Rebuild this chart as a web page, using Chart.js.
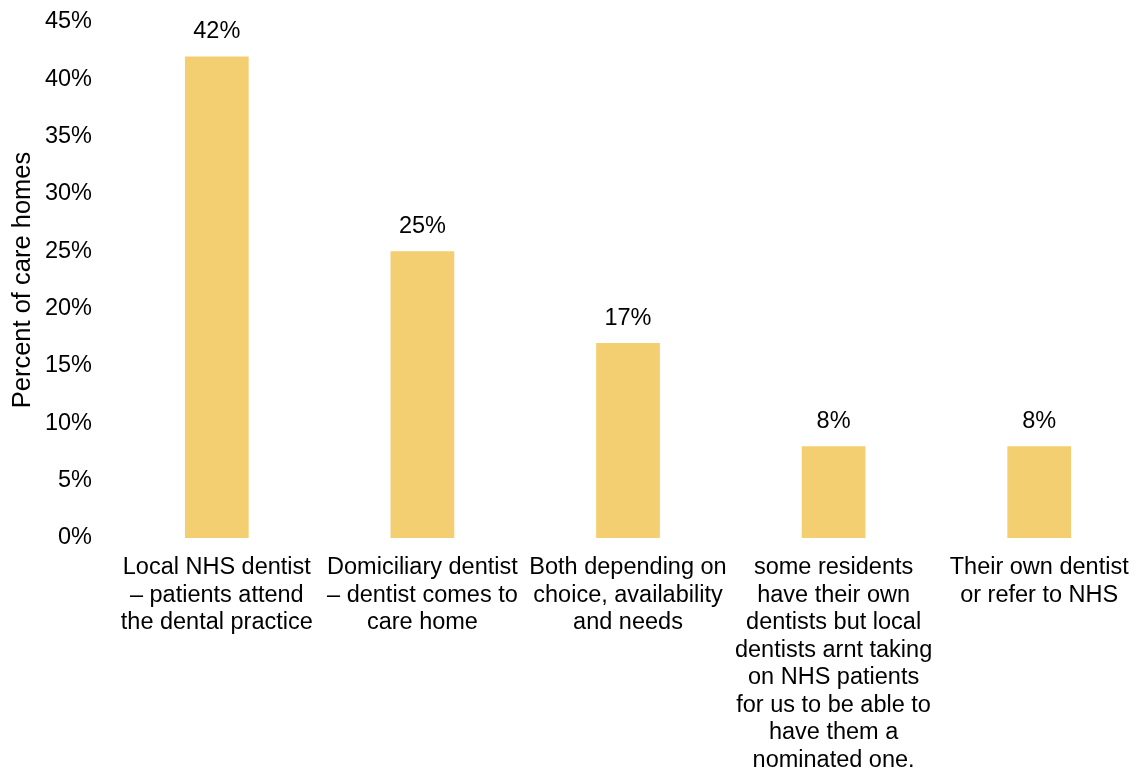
<!DOCTYPE html>
<html>
<head>
<meta charset="utf-8">
<script src="https://cdn.jsdelivr.net/npm/chart.js@4"></script>
<style>
  html, body { margin: 0; padding: 0; background: #ffffff; }
  #wrap { width: 1142px; height: 772px; }
</style>
</head>
<body>
<div id="wrap"><canvas id="chart" width="1142" height="772"></canvas></div>
<script>
// How care homes arrange dental care for residents
const categories = [
  ['Local NHS dentist', '\u2013 patients attend', 'the dental practice'],
  ['Domiciliary dentist', '\u2013 dentist comes to', 'care home'],
  ['Both depending on', 'choice, availability', 'and needs'],
  ['some residents', 'have their own', 'dentists but local', 'dentists arnt taking', 'on NHS patients', 'for us to be able to', 'have them a', 'nominated one.'],
  ['Their own dentist', 'or refer to NHS']
];
const percentValues = [42, 25, 17, 8, 8];
const yTicks = [0, 5, 10, 15, 20, 25, 30, 35, 40, 45];
const yTitle = 'Percent of care homes';

const FONT = '"Liberation Sans", Arial, sans-serif';

// Value labels drawn above each bar
const barValueLabels = {
  id: 'barValueLabels',
  afterDatasetsDraw(chart) {
    const ctx = chart.ctx;
    const meta = chart.getDatasetMeta(0);
    ctx.save();
    ctx.font = '23.5px ' + FONT;
    ctx.fillStyle = '#000000';
    ctx.textAlign = 'center';
    ctx.textBaseline = 'middle';
    meta.data.forEach((bar, i) => {
      ctx.fillText(percentValues[i] + '%', bar.x, bar.y - 25);
    });
    ctx.restore();
  }
};

new Chart(document.getElementById('chart'), {
  type: 'bar',
  data: {
    labels: categories,
    datasets: [{
      data: percentValues,
      backgroundColor: '#F3CF72',
      borderWidth: 0,
      barPercentage: 0.31,
      categoryPercentage: 1.0
    }]
  },
  options: {
    responsive: false,
    animation: false,
    layout: { padding: { top: 22, right: 0, left: 0, bottom: 0 } },
    plugins: {
      legend: { display: false },
      tooltip: { enabled: false }
    },
    scales: {
      x: {
        grid: { display: false, drawTicks: false },
        border: { display: false },
        ticks: {
          color: '#000000',
          font: { family: FONT, size: 23.5, lineHeight: '27.5px' },
          padding: 16,
          maxRotation: 0,
          minRotation: 0,
          autoSkip: false
        },
        afterFit(scale) {
          scale.height = 234;
          scale.paddingLeft = 0;
          scale.paddingRight = 0;
        }
      },
      y: {
        min: 0,
        max: 45,
        afterBuildTicks(scale) { scale.ticks = yTicks.map(v => ({ value: v })); },
        grid: { display: false, drawTicks: false },
        border: { display: false },
        ticks: {
          color: '#000000',
          font: { family: FONT, size: 23.5 },
          padding: 22,
          callback: v => v + '%'
        },
        title: {
          display: true,
          text: yTitle,
          color: '#000000',
          font: { family: FONT, size: 25.5 },
          padding: { top: 8, bottom: 0 }
        },
        afterFit(scale) {
          scale.width = 114;
          scale.paddingTop = 0;
          scale.paddingBottom = 0;
        }
      }
    }
  },
  plugins: [barValueLabels]
});
</script>
</body>
</html>
